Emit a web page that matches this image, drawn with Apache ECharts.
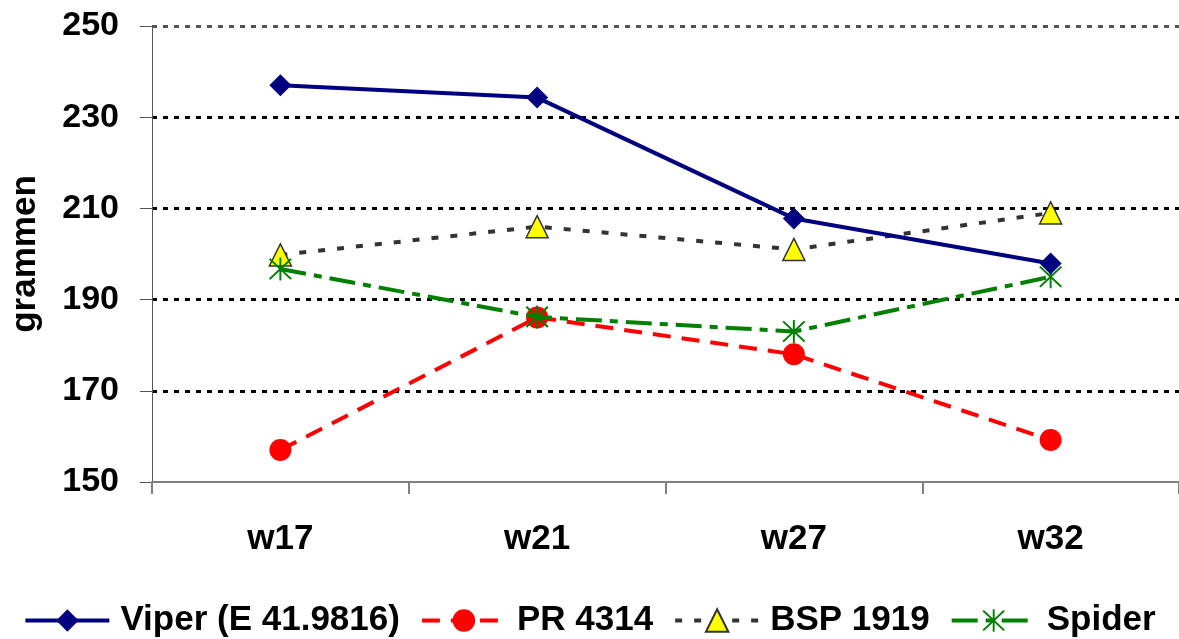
<!DOCTYPE html>
<html>
<head>
<meta charset="utf-8">
<script src="https://cdn.jsdelivr.net/npm/echarts@6/dist/echarts.min.js"></script>
<style>
  html, body { margin: 0; padding: 0; background: #fff; }
  #chart { width: 1179px; height: 639px; }
</style>
</head>
<body>
<div id="chart"></div>
<script>
// weeks on the x axis
const weeks = ['w17', 'w21', 'w27', 'w32'];
// weights (grammen) per variety
const viper = [237, 234.3, 207.8, 197.9];
const pr4314 = [157, 186.1, 178, 159.2];
const bsp1919 = [199.8, 206, 201, 209];
const spider = [196.7, 186.2, 183, 195];
// y axis range
const yMin = 150, yMax = 250, yStep = 20;

// asterisk marker: vertical bar + two diagonals
const asterisk = 'path://M9.2,0L10.8,0L10.8,20L9.2,20Z' +
  'M0.6,1.8L1.8,0.6L19.4,18.2L18.2,19.4Z' +
  'M18.2,0.6L19.4,1.8L1.8,19.4L0.6,18.2Z';

const font = '"Liberation Sans", Arial, sans-serif';

const chart = echarts.init(document.getElementById('chart'));
const option = {
  animation: false,
  backgroundColor: '#fff',
  grid: { left: 151, right: 0, top: 26, bottom: 157 },
  legend: {
    top: 598,
    left: 'center',
    itemWidth: 84,
    itemHeight: 28,
    itemGap: 20,
    lineStyle: { width: 4 },
    textStyle: {
      fontFamily: font, fontWeight: 'bold', fontSize: 35, color: '#000',
      padding: [0, 0, 0, 6]
    },
    data: ['Viper (E 41.9816)', 'PR 4314', 'BSP 1919', 'Spider']
  },
  xAxis: {
    type: 'category',
    data: weeks,
    boundaryGap: true,
    axisLine: { lineStyle: { color: '#808080', width: 2 } },
    axisTick: { show: true, length: 12, lineStyle: { color: '#808080', width: 2 } },
    axisLabel: { margin: 40, fontFamily: font, fontWeight: 'bold', fontSize: 35, color: '#000' },
    splitLine: { show: false }
  },
  yAxis: {
    type: 'value',
    min: yMin,
    max: yMax,
    interval: yStep,
    name: 'grammen',
    nameLocation: 'middle',
    nameGap: 109,
    nameTextStyle: { fontFamily: font, fontWeight: 'bold', fontSize: 35, color: '#000' },
    axisLine: { show: true, lineStyle: { color: '#555', width: 1 } },
    axisTick: { show: true, inside: false, length: 12, lineStyle: { color: '#555', width: 1 } },
    axisLabel: { margin: 33, fontFamily: font, fontWeight: 'bold', fontSize: 34, color: '#000' },
    splitLine: {
      show: true,
      lineStyle: {
        color: ['rgba(0,0,0,0)', '#000', '#000', '#000', '#000', '#555'],
        width: 3,
        type: [5, 6]
      }
    }
  },
  series: [
    {
      name: 'Viper (E 41.9816)',
      type: 'line',
      data: viper,
      symbol: 'diamond',
      symbolSize: 22,
      lineStyle: { color: '#000080', width: 4, type: 'solid' },
      itemStyle: { color: '#000080' },
      z: 4
    },
    {
      name: 'PR 4314',
      type: 'line',
      data: pr4314,
      symbol: 'circle',
      symbolSize: 22,
      lineStyle: { color: '#ff0000', width: 4, type: [18, 11] },
      itemStyle: { color: '#ff0000' },
      z: 2
    },
    {
      name: 'BSP 1919',
      type: 'line',
      data: bsp1919,
      symbol: 'triangle',
      symbolSize: 22,
      lineStyle: { color: '#333', width: 4, type: [7, 12] },
      itemStyle: { color: '#ffff00', borderColor: '#333', borderWidth: 1.5 },
      z: 3
    },
    {
      name: 'Spider',
      type: 'line',
      data: spider,
      symbol: asterisk,
      symbolSize: 23,
      lineStyle: { color: '#008000', width: 4, type: [26, 8, 8, 8] },
      itemStyle: { color: '#008000' },
      z: 3
    }
  ]
};
chart.setOption(option);
</script>
</body>
</html>
